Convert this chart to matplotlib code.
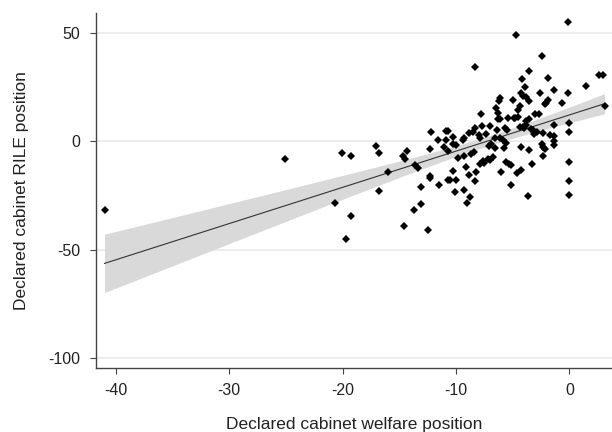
import numpy as np
import matplotlib
matplotlib.use('Agg')
import matplotlib.pyplot as plt

plt.rcParams['font.family'] = ['Liberation Sans', 'DejaVu Sans']
plt.rcParams['axes.unicode_minus'] = False

# cabinet welfare position (x) and RILE position (y)
welfare = [-41.0, -25.1, -20.7, -20.1, -19.3, -19.7, -19.3, -17.1, -16.8, -16.8,
           -16.0, -14.7, -14.5, -14.3, -14.6, -13.7, -13.6, -13.4, -13.1, -13.1,
           -12.5, -12.3, -12.3, -12.3, -12.2, -11.6, -11.5, -11.1, -10.9, -10.7,
           -10.9, -10.7, -10.7, -10.5, -10.3, -10.3, -10.3, -10.0, -10.0, -10.1,
           -9.8, -9.4, -9.3, -9.3, -9.3, -9.1, -9.0, -8.9, -8.9, -8.8,
           -8.7, -8.5, -8.4, -8.3, -8.3, -8.3, -8.2, -8.0, -7.9, -7.9,
           -7.8, -7.7, -7.6, -7.5, -7.4, -7.2, -7.0, -7.1, -7.0, -6.9,
           -6.7, -6.6, -6.6, -6.5, -6.4, -6.3, -6.3, -6.2, -6.1, -6.1,
           -6.1, -6.0, -5.9, -5.8, -5.7, -5.6, -5.6, -5.5, -5.4, -5.3,
           -5.2, -5.2, -5.0, -4.9, -4.8, -4.7, -4.6, -4.5, -4.5, -4.4,
           -4.4, -4.3, -4.3, -4.2, -4.1, -4.3, -4.1, -4.0, -3.9, -3.8,
           -3.8, -3.8, -3.6, -3.7, -3.6, -3.6, -3.6, -3.4, -3.3, -3.2,
           -3.0, -3.1, -2.9, -2.7, -2.6, -2.4, -2.4, -2.3, -2.3, -2.3,
           -2.2, -2.2, -2.1, -1.9, -1.9, -1.7, -1.4, -1.4, -1.4, -1.4,
           -1.4, -0.7, -0.1, -0.1, 0.0, 0.0, 0.0, 0.0, 0.0, 1.5,
           2.6, 3.0, 3.1]
rile = [-31.6, -8.0, -28.4, -5.4, -6.6, -45.1, -34.4, -2.0, -5.2, -22.8,
        -14.2, -6.9, -7.9, -4.3, -39.0, -31.6, -11.1, -12.2, -28.8, -21.0,
        -40.8, -16.9, -16.0, -3.4, 4.5, 0.5, -20.0, -2.8, 4.6, 4.6,
        0.5, -4.2, -17.7, -17.7, 2.2, -13.6, -1.2, -1.8, -17.9, -23.3,
        -7.6, 0.8, 1.5, -22.3, -6.9, -12.0, -28.5, 3.9, -15.7, -25.6,
        -5.9, 4.2, -4.8, 34.5, 6.0, -18.2, -14.2, 3.1, 1.8, -10.6,
        12.6, 7.2, -9.2, -10.0, 3.5, -7.9, 7.2, -2.0, -8.8, -1.4,
        -7.4, 1.5, -3.1, 15.4, 5.4, 10.6, 13.1, 18.6, 19.9, 10.6,
        1.5, -14.2, 0.8, -2.9, 6.3, -0.5, -9.4, 5.4, 10.9, -10.3,
        -11.1, -20.0, 19.3, 10.9, 10.9, 49.0, -14.6, 11.1, 14.6, 16.2,
        6.9, -13.4, -2.5, 28.8, 6.6, 22.3, 21.0, 6.0, 25.3, 9.6,
        20.5, 7.6, 10.6, -25.1, -3.9, 18.5, 32.7, 5.9, -10.3, 5.1,
        12.8, 3.5, 4.2, 12.6, 22.3, 39.6, -1.2, 3.9, -2.6, -6.9,
        -3.5, 17.3, 18.0, 19.0, 29.4, 3.1, 2.6, 23.9, 7.7, 0.0,
        -1.5, 18.0, 55.3, 22.3, 8.5, 4.5, -9.6, -18.2, -24.7, 25.7,
        30.8, 30.8, 16.2]

x_ticks = [-40, -30, -20, -10, 0]
y_ticks = [-100, -50, 0, 50]

x = np.array(welfare)
y = np.array(rile)

# linear fit with 95% confidence interval (like Stata lfitci)
n = len(x)
slope, intercept = np.polyfit(x, y, 1)
resid = y - (intercept + slope * x)
s = np.sqrt(np.sum(resid ** 2) / (n - 2))
xbar = x.mean()
sxx = np.sum((x - xbar) ** 2)
xs = np.linspace(x.min(), x.max(), 200)
ys = intercept + slope * xs
se = s * np.sqrt(1.0 / n + (xs - xbar) ** 2 / sxx)
tval = 1.976
lo = ys - tval * se
hi = ys + tval * se

fig = plt.figure(figsize=(6.12, 4.32), dpi=100)
ax = fig.add_axes([96 / 612, 1 - 368 / 432, 1 - 96 / 612, (368 - 13) / 432])

ax.fill_between(xs, lo, hi, color='#d9d9d9', lw=0, zorder=1)
ax.plot(xs, ys, color='#333333', lw=0.8, zorder=2)
ax.plot(x, y, 'D', color='black', ms=4.1, mew=0, zorder=3)

ax.set_xlim(-41.75, 3.75)
ax.set_ylim(-104.8, 59.4)
ax.set_xticks(x_ticks)
ax.set_yticks(y_ticks)
ax.yaxis.grid(True, color='#eaeaea', lw=1.2, zorder=0)
ax.set_axisbelow(True)

for side in ['top', 'right']:
    ax.spines[side].set_visible(False)
for side in ['left', 'bottom']:
    ax.spines[side].set_color('#444444')
    ax.spines[side].set_linewidth(1.0)
ax.tick_params(axis='both', direction='out', length=4.5, width=0.8, color='#444444',
               labelsize=11.5, labelcolor='#222222')
ax.tick_params(axis='x', pad=6)
ax.tick_params(axis='y', pad=7)

ax.set_xlabel('Declared cabinet welfare position', fontsize=12.5, color='#222222', labelpad=14)
ax.set_ylabel('Declared cabinet RILE position', fontsize=12.5, color='#222222', labelpad=14)

fig.savefig('out.png', dpi=100)
